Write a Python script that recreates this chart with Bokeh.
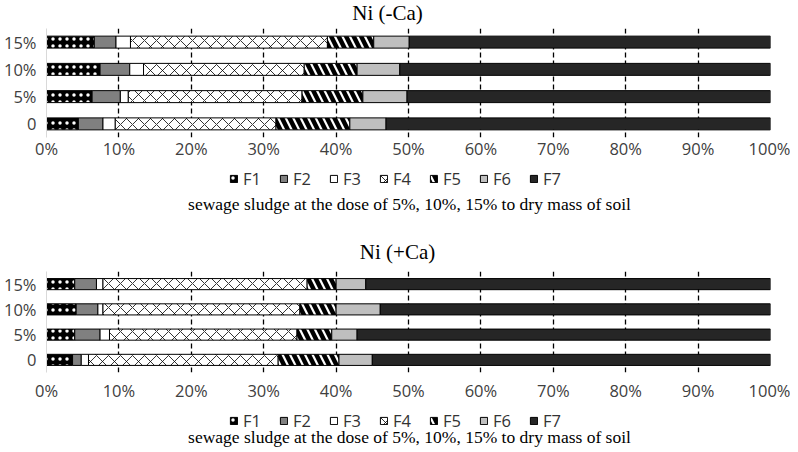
from bokeh.plotting import figure
from bokeh.models import (FactorRange, Range1d, FixedTicker, Legend, LegendItem,
                          ColumnDataSource, Label)
from bokeh.layouts import column
from bokeh.embed import file_html
from bokeh.resources import INLINE

doses = ["0", "5%", "10%", "15%"]
fractions = ["F1", "F2", "F3", "F4", "F5", "F6", "F7"]
tick_values = [0, 10, 20, 30, 40, 50, 60, 70, 80, 90, 100]
tick_labels = ["0%", "10%", "20%", "30%", "40%", "50%", "60%", "70%", "80%", "90%", "100%"]
caption = "sewage sludge at the dose of 5%, 10%, 15% to dry mass of soil"
titles = ["Ni (-Ca)", "Ni (+Ca)"]

# Ni (-Ca)
minus_F1 = [4.4, 6.3, 7.4, 6.6]
minus_F2 = [3.4, 3.9, 4.1, 3.0]
minus_F3 = [1.7, 1.1, 1.9, 2.0]
minus_F4 = [22.2, 24.0, 22.2, 27.2]
minus_F5 = [10.2, 8.4, 7.3, 6.4]
minus_F6 = [5.0, 6.1, 5.9, 4.9]
minus_F7 = [53.1, 50.2, 51.2, 49.9]

# Ni (+Ca)
plus_F1 = [3.6, 3.9, 4.1, 3.9]
plus_F2 = [1.2, 3.5, 3.0, 3.0]
plus_F3 = [1.0, 1.3, 0.7, 0.9]
plus_F4 = [26.2, 25.9, 27.2, 28.2]
plus_F5 = [8.4, 4.8, 5.0, 4.0]
plus_F6 = [4.6, 3.5, 6.1, 4.1]
plus_F7 = [55.0, 57.1, 53.9, 55.9]

fills = ["#000000", "#808080", "#ffffff", "#ffffff", "#ffffff", "#bfbfbf", "#262626"]
hatches = ["dot", "blank", "blank", "diagonal_cross", "left_diagonal_line", "blank", "blank"]
hatch_colors = ["#ffffff", "#000000", "#000000", "#000000", "#000000", "#000000", "#000000"]
hatch_scales = [7, 12, 12, 12, 15, 12, 12]
hatch_weights = [1.5, 1, 1, 0.8, 4.5, 1, 1]

LABEL_FONT = "Open Sans"
SERIF = "Liberation Serif"
W = 790
LEFT = 38
RIGHT = 20


def style_kwargs(i):
    return dict(fill_color=fills[i], line_color="black", line_width=1,
                hatch_pattern=hatches[i], hatch_color=hatch_colors[i],
                hatch_scale=hatch_scales[i], hatch_weight=hatch_weights[i])


def blank_fig(height):
    p = figure(width=W, height=height, x_range=Range1d(0, 1), y_range=Range1d(0, 1),
               x_axis_type=None, y_axis_type=None, output_backend="svg",
               toolbar_location=None, min_border_left=LEFT, min_border_right=RIGHT,
               min_border_top=0, min_border_bottom=0)
    p.outline_line_color = None
    p.grid.visible = False
    return p


def bars_fig(series, frame_h, label_standoff):
    src = ColumnDataSource({"dose": doses})
    p = figure(width=W, height=frame_h + 27, y_range=FactorRange(factors=doses),
               x_range=Range1d(0, 100), output_backend="svg",
               toolbar_location=None, min_border_left=LEFT,
               min_border_right=RIGHT, min_border_top=0,
               min_border_bottom=27)
    p.outline_line_color = None
    for i, name in enumerate(fractions):
        left = [sum(v) for v in zip(*series[:i])] if i > 0 else [0] * len(doses)
        right = [sum(v) for v in zip(*series[:i + 1])]
        src.data["l_" + name] = left
        src.data["r_" + name] = right
        p.hbar(y="dose", left="l_" + name, right="r_" + name, height=0.44,
               source=src, **style_kwargs(i))

    p.xaxis.ticker = FixedTicker(ticks=tick_values)
    p.xaxis.major_label_overrides = dict(zip(tick_values, tick_labels))
    p.xaxis.axis_line_color = None
    p.xaxis.major_tick_line_color = None
    p.xaxis.minor_tick_line_color = None
    p.xaxis.major_label_text_font = LABEL_FONT
    p.xaxis.major_label_text_font_size = "16.5px"
    p.xaxis.major_label_text_color = "#404040"
    p.xaxis.major_label_standoff = label_standoff

    p.yaxis.axis_line_color = "#d9d9d9"
    p.yaxis.major_tick_line_color = None
    p.yaxis.minor_tick_line_color = None
    p.yaxis.major_label_text_font = LABEL_FONT
    p.yaxis.major_label_text_font_size = "16.5px"
    p.yaxis.major_label_text_color = "#404040"
    p.yaxis.major_label_standoff = 4

    p.ygrid.grid_line_color = None
    p.xgrid.ticker = FixedTicker(ticks=tick_values[1:])
    p.xgrid.grid_line_color = "black"
    p.xgrid.grid_line_dash = "5 3"
    p.xgrid.grid_line_width = 1.3
    return p


def add_legend(p, legend_x, legend_y):
    items = []
    for i, name in enumerate(fractions):
        r = p.hbar(y=[-10], left=[0], right=[0.1], height=0.1, **style_kwargs(i))
        items.append(LegendItem(label=name, renderers=[r]))
    legend = Legend(items=items, orientation="horizontal",
                    location=(legend_x, legend_y),
                    label_text_font=LABEL_FONT, label_text_font_size="16.5px",
                    label_text_color="#333333",
                    glyph_width=9, glyph_height=9, label_standoff=5,
                    spacing=16, padding=0, margin=0,
                    border_line_color=None, background_fill_alpha=0)
    p.add_layout(legend, "center")


def add_text(p, x, y, text, size):
    p.add_layout(Label(x=x, y=y, x_units="screen", y_units="screen", text=text,
                       text_font=SERIF, text_font_size=size, text_color="black",
                       text_align="center", text_baseline="alphabetic"))


# header with first title
header = blank_fig(28)
add_text(header, 341, 16, titles[0], "21px")

bars_top = bars_fig([minus_F1, minus_F2, minus_F3, minus_F4, minus_F5, minus_F6, minus_F7],
                    109, -7)

middle = blank_fig(107)
add_legend(middle, 183, 81)
add_text(middle, 363, 68, caption, "17.5px")
add_text(middle, 351, 20, titles[1], "21px")

bars_bottom = bars_fig([plus_F1, plus_F2, plus_F3, plus_F4, plus_F5, plus_F6, plus_F7],
                       106, 0)

footer = blank_fig(48)
add_legend(footer, 183, 20)
add_text(footer, 363, 16, caption, "17.5px")

layout = column(header, bars_top, middle, bars_bottom, footer, spacing=0)
open("out.html", "w").write(file_html(layout, INLINE))
